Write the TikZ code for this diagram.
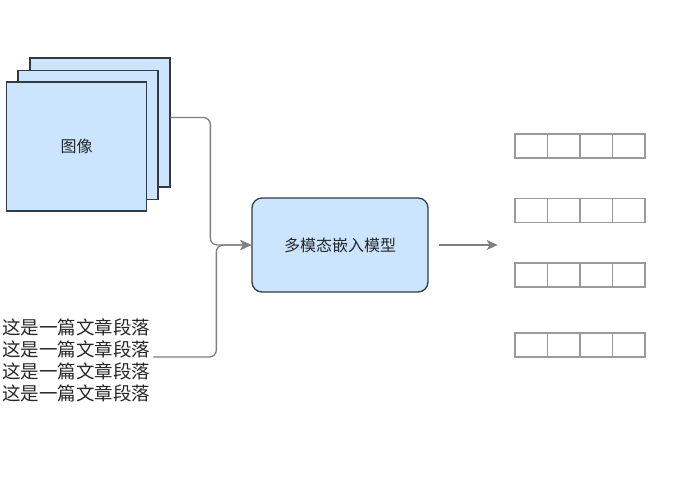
\documentclass[tikz,border=0pt]{standalone}
\usepackage{fontspec}
\newfontfamily\cjk{Noto Sans CJK SC}
\usetikzlibrary{arrows.meta,calc}
\definecolor{boxfill}{HTML}{CCE5FF}
\definecolor{boxline}{HTML}{36393D}
\definecolor{connline}{HTML}{7F7F7F}
\definecolor{cellline}{HTML}{9A9A9A}
\definecolor{labeltext}{HTML}{262626}
\tikzset{
  imgbox/.style={draw=boxline, fill=boxfill, line width=1.3pt, inner sep=0pt,
    minimum width=140, minimum height=129},
  modelbox/.style={draw=boxline, fill=boxfill, line width=1.3pt, rounded corners=10,
    inner sep=0pt, minimum width=176, minimum height=94},
  cellbox/.style={draw=cellline, line width=1.2pt, inner sep=0pt,
    minimum width=32.5, minimum height=24},
  conn/.style={draw=connline, line width=1.3pt, rounded corners=7,
    -{Stealth[length=11pt,width=10pt,inset=3pt]}}
}
\begin{document}
\begin{tikzpicture}[x=1pt,y=-1pt]
\useasboundingbox (0,0) rectangle (679,480);
{\cjk\color{labeltext}

% Drawing image stack
\node [imgbox] (img3) at (100,122.5) {};
\node [imgbox] (img2) at (88,135) {};
\node [imgbox] (img1) at (76.5,146.5) {\fontsize{16}{19}\selectfont 图像};

% Drawing paragraph text
\node [anchor=west, align=left, inner sep=0pt, font=\fontsize{18.5}{22}\selectfont] (para) at (2,360)
  {这是一篇文章段落\\这是一篇文章段落\\这是一篇文章段落\\这是一篇文章段落};

% Drawing model box
\node [modelbox] (model) at (340,245) {\fontsize{16}{19}\selectfont 多模态嵌入模型};

% Drawing connectors into model
\draw [conn] ($(img3.east)+(0,-5)$) -| ($(model.west)+(-41,0)$) -- (model.west);
\draw [conn] ($(para.east)+(3,-3)$) -| ($(model.west)+(-35,0)$) -- (model.west);

% Drawing output arrow
\coordinate (outstart) at ($(model.east)+(10,0)$);
\coordinate (outend) at ($(model.east)+(69,0)$);
\draw [conn] (outstart) -- (outend);

% Drawing embedding vectors
\foreach \row/\y in {1/146,2/210.5,3/275,4/345}{
  \foreach \col/\x in {1/531.25,2/563.75,3/596.25,4/628.75}{
    \node [cellbox] (vec\row\col) at (\x,\y) {};
  }
}
}
\end{tikzpicture}
\end{document}
